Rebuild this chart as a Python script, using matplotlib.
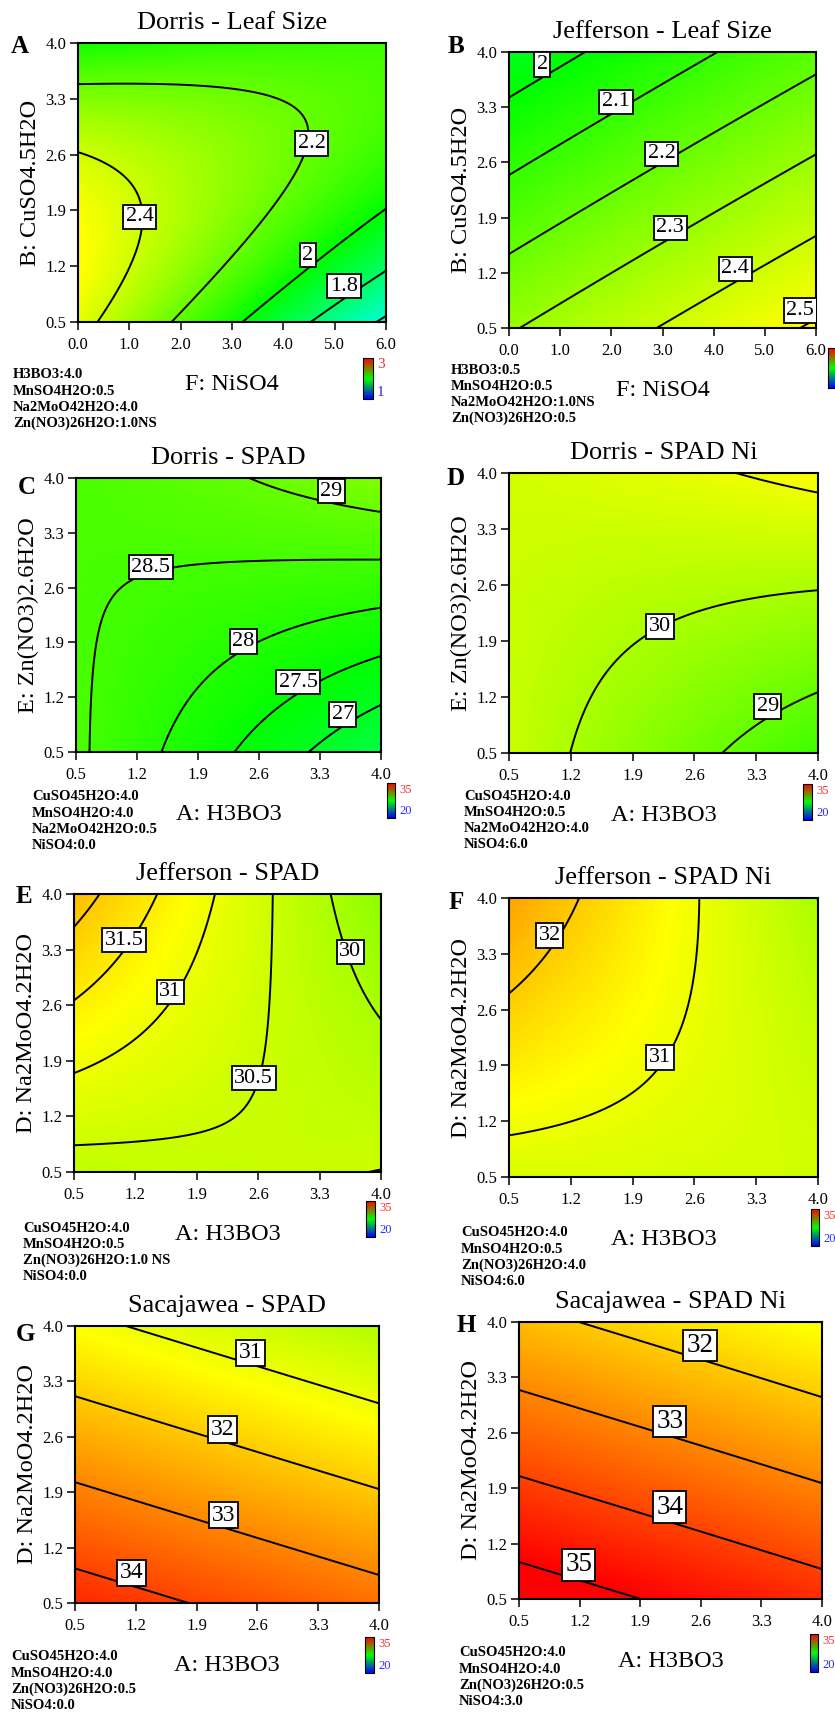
import numpy as np
import matplotlib
matplotlib.use('Agg')
import matplotlib.pyplot as plt
from matplotlib.colors import LinearSegmentedColormap, Normalize
from matplotlib.cm import ScalarMappable

plt.rcParams['font.family'] = ['Liberation Serif', 'DejaVu Serif']

FIG_W, FIG_H = 835, 1713

leaf_x = [0.0, 2.0, 4.0, 6.0]        # F: NiSO4
spad_x = [0.5, 1.67, 2.83, 4.0]      # A: H3BO3
read_y = [0.5, 1.67, 2.83, 4.0]      # B / E / D factor

leaf_ticks_x = [0, 1, 2, 3, 4, 5, 6]
spad_ticks = [0.5, 1.2, 1.9, 2.6, 3.3, 4.0]

# surface values, one row per read_y (bottom to top), one column per x
dorris_leaf = [[2.46, 2.17, 1.87, 1.57],
               [2.51, 2.33, 2.15, 1.96],
               [2.35, 2.29, 2.23, 2.12],
               [2.03, 2.08, 2.12, 2.10]]
jefferson_leaf = [[2.29, 2.37, 2.44, 2.51],
                  [2.18, 2.25, 2.33, 2.40],
                  [2.06, 2.14, 2.21, 2.29],
                  [1.94, 2.02, 2.10, 2.17]]
dorris_spad = [[28.60, 27.89, 27.20, 26.52],
               [28.57, 28.16, 27.80, 27.46],
               [28.56, 28.50, 28.45, 28.40],
               [28.56, 28.82, 29.08, 29.35]]
dorris_spad_ni = [[30.40, 29.75, 29.06, 28.39],
                  [30.45, 30.03, 29.67, 29.33],
                  [30.50, 30.35, 30.20, 30.27],
                  [30.60, 30.75, 30.95, 31.21]]
jefferson_spad = [[30.32, 30.38, 30.42, 30.52],
                  [30.95, 30.70, 30.46, 30.20],
                  [31.59, 31.04, 30.45, 29.88],
                  [32.22, 31.33, 30.45, 29.57]]
jefferson_spad_ni = [[30.71, 30.68, 30.62, 30.55],
                     [31.34, 31.08, 30.80, 30.50],
                     [31.98, 31.42, 30.90, 30.30],
                     [32.62, 31.73, 30.85, 29.96]]
sacajawea_spad = [[34.40, 34.04, 33.68, 33.33],
                  [33.33, 32.97, 32.61, 32.25],
                  [32.26, 31.90, 31.54, 31.17],
                  [31.18, 30.82, 30.46, 30.10]]
sacajawea_spad_ni = [[35.43, 35.07, 34.71, 34.35],
                     [34.36, 34.00, 33.64, 33.27],
                     [33.28, 32.92, 32.56, 32.21],
                     [32.21, 31.86, 31.50, 31.12]]

# contour levels drawn
dorris_leaf_levels = [1.6, 1.8, 2.0, 2.2, 2.4]
jefferson_leaf_levels = [2.0, 2.1, 2.2, 2.3, 2.4, 2.5]
dorris_spad_levels = [27, 27.5, 28, 28.5, 29]
dorris_spad_ni_levels = [29, 30, 31]
jefferson_spad_levels = [30, 30.5, 31, 31.5, 32]
jefferson_spad_ni_levels = [30, 31, 32]
sacajawea_spad_levels = [31, 32, 33, 34]
sacajawea_spad_ni_levels = [32, 33, 34, 35]

leaf_range = (1, 3)
spad_range = (20, 35)

dorris_leaf_notes = ['H3BO3:4.0', 'MnSO4H2O:0.5', 'Na2MoO42H2O:4.0', 'Zn(NO3)26H2O:1.0NS']
jefferson_leaf_notes = ['H3BO3:0.5', 'MnSO4H2O:0.5', 'Na2MoO42H2O:1.0NS', 'Zn(NO3)26H2O:0.5']
dorris_spad_notes = ['CuSO45H2O:4.0', 'MnSO4H2O:4.0', 'Na2MoO42H2O:0.5', 'NiSO4:0.0']
dorris_spad_ni_notes = ['CuSO45H2O:4.0', 'MnSO4H2O:0.5', 'Na2MoO42H2O:4.0', 'NiSO4:6.0']
jefferson_spad_notes = ['CuSO45H2O:4.0', 'MnSO4H2O:0.5', 'Zn(NO3)26H2O:1.0 NS', 'NiSO4:0.0']
jefferson_spad_ni_notes = ['CuSO45H2O:4.0', 'MnSO4H2O:0.5', 'Zn(NO3)26H2O:4.0', 'NiSO4:6.0']
sacajawea_spad_notes = ['CuSO45H2O:4.0', 'MnSO4H2O:4.0', 'Zn(NO3)26H2O:0.5', 'NiSO4:0.0']
sacajawea_spad_ni_notes = ['CuSO45H2O:4.0', 'MnSO4H2O:4.0', 'Zn(NO3)26H2O:0.5', 'NiSO4:3.0']

surface_cmap = LinearSegmentedColormap.from_list(
    'surface', ['#0000ff', '#00ffff', '#00ff00', '#ffff00', '#ff0000'])
legend_cmap = LinearSegmentedColormap.from_list(
    'legend', ['#0000ff', '#00ff00', '#ff0000'])


def fx(x):
    return x / FIG_W


def fy(y):
    return 1 - y / FIG_H


def quad_surface(xs, ys, z, n=240):
    # full second order response surface through the read values
    X, Y = np.meshgrid(xs, ys)

    def terms(x, y):
        return np.column_stack([np.ones_like(x), x, y, x * y, x ** 2, y ** 2])

    coef = np.linalg.lstsq(terms(X.ravel(), Y.ravel()), np.ravel(z), rcond=None)[0]
    gx = np.linspace(xs[0], xs[-1], n)
    gy = np.linspace(ys[0], ys[-1], n)
    GX, GY = np.meshgrid(gx, gy)
    return gx, gy, (terms(GX.ravel(), GY.ravel()) @ coef).reshape(GX.shape)


panels = [
    dict(letter='A', title='Dorris - Leaf Size', xs=leaf_x, z=dorris_leaf,
         levels=dorris_leaf_levels, vr=leaf_range,
         xlabel='F: NiSO4', ylabel='B: CuSO4.5H2O', notes=dorris_leaf_notes,
         box=(78, 43, 386, 322), letter_at=(20, 53), notes_at=(13, 375),
         cbar=(363, 358, 373, 399), cbar_fs=11,
         label_at=[(5.18, 0.95), (4.48, 1.34), (4.55, 2.74), (1.2, 1.82)], label_fs=16),
    dict(letter='B', title='Jefferson - Leaf Size', xs=leaf_x, z=jefferson_leaf,
         levels=jefferson_leaf_levels, vr=leaf_range,
         xlabel='F: NiSO4', ylabel='B: CuSO4.5H2O', notes=jefferson_leaf_notes,
         box=(509, 52, 816, 328), letter_at=(456, 53), notes_at=(451, 370),
         cbar=(828, 348, 838, 388), cbar_fs=None,
         label_at=[(0.65, 3.84), (2.09, 3.37), (2.98, 2.71), (3.15, 1.77),
                   (4.42, 1.25), (5.69, 0.72)], label_fs=16),
    dict(letter='C', title='Dorris - SPAD', xs=spad_x, z=dorris_spad,
         levels=dorris_spad_levels, vr=spad_range,
         xlabel='A: H3BO3', ylabel='E: Zn(NO3)2.6H2O', notes=dorris_spad_notes,
         box=(76, 478, 381, 752), letter_at=(27, 494), notes_at=(32, 797),
         cbar=(387, 783, 395, 818), cbar_fs=9,
         label_at=[(3.56, 0.98), (3.05, 1.39), (2.42, 1.91), (1.36, 2.86), (3.43, 3.83)],
         label_fs=16),
    dict(letter='D', title='Dorris - SPAD Ni', xs=spad_x, z=dorris_spad_ni,
         levels=dorris_spad_ni_levels, vr=spad_range,
         xlabel='A: H3BO3', ylabel='E: Zn(NO3)2.6H2O', notes=dorris_spad_ni_notes,
         box=(509, 473, 818, 753), letter_at=(456, 485), notes_at=(464, 796),
         cbar=(803, 784, 812, 820), cbar_fs=9,
         label_at=[(3.43, 1.08), (2.21, 2.08)], label_fs=16),
    dict(letter='E', title='Jefferson - SPAD', xs=spad_x, z=jefferson_spad,
         levels=jefferson_spad_levels, vr=spad_range,
         xlabel='A: H3BO3', ylabel='D: Na2MoO4.2H2O', notes=jefferson_spad_notes,
         box=(74, 894, 381, 1172), letter_at=(24, 903), notes_at=(23, 1228),
         cbar=(366, 1201, 375, 1237), cbar_fs=9,
         label_at=[(3.65, 3.27), (2.55, 1.68), (1.6, 2.77), (1.07, 3.42)], label_fs=16),
    dict(letter='F', title='Jefferson - SPAD Ni', xs=spad_x, z=jefferson_spad_ni,
         levels=jefferson_spad_ni_levels, vr=spad_range,
         xlabel='A: H3BO3', ylabel='D: Na2MoO4.2H2O', notes=jefferson_spad_ni_notes,
         box=(509, 898, 818, 1177), letter_at=(456, 909), notes_at=(461, 1233),
         cbar=(811, 1209, 819, 1246), cbar_fs=9,
         label_at=[(2.21, 2.0), (0.96, 3.53)], label_fs=16),
    dict(letter='G', title='Sacajawea - SPAD', xs=spad_x, z=sacajawea_spad,
         levels=sacajawea_spad_levels, vr=spad_range,
         xlabel='A: H3BO3', ylabel='D: Na2MoO4.2H2O', notes=sacajawea_spad_notes,
         box=(75, 1326, 379, 1603), letter_at=(25, 1341), notes_at=(11, 1657),
         cbar=(365, 1637, 374, 1673), cbar_fs=9,
         label_at=[(2.52, 3.66), (2.20, 2.69), (2.21, 1.61), (1.15, 0.88)], label_fs=17),
    dict(letter='H', title='Sacajawea - SPAD Ni', xs=spad_x, z=sacajawea_spad_ni,
         levels=sacajawea_spad_ni_levels, vr=spad_range,
         xlabel='A: H3BO3', ylabel='D: Na2MoO4.2H2O', notes=sacajawea_spad_ni_notes,
         box=(519, 1322, 822, 1599), letter_at=(466, 1332), notes_at=(459, 1653),
         cbar=(810, 1634, 818, 1672), cbar_fs=9,
         label_at=[(2.59, 3.70), (2.24, 2.74), (2.24, 1.66), (1.19, 0.93)], label_fs=19.5),
]

fig = plt.figure(figsize=(FIG_W / 100, FIG_H / 100), dpi=100)

for p in panels:
    left, top, right, bottom = p['box']
    ax = fig.add_axes([fx(left), fy(bottom), (right - left) / FIG_W, (bottom - top) / FIG_H])
    gx, gy, gz = quad_surface(p['xs'], read_y, p['z'])
    norm = Normalize(*p['vr'])
    ax.imshow(gz, origin='lower', extent=[gx[0], gx[-1], gy[0], gy[-1]],
              aspect='auto', cmap=surface_cmap, norm=norm, interpolation='bilinear')
    cs = ax.contour(gx, gy, gz, levels=p['levels'], colors='black', linewidths=1.4)
    texts = ax.clabel(cs, manual=p['label_at'], inline=False,
                      fmt='%g', fontsize=p['label_fs'])
    for t, pos in zip(texts, p['label_at']):
        t.set_rotation(0)
        t.set_position(pos)
        t.set_bbox(dict(boxstyle='square,pad=0.12', fc='white', ec='black', lw=1.3))
    ax.set_xlim(gx[0], gx[-1])
    ax.set_ylim(gy[0], gy[-1])
    xt = leaf_ticks_x if p['xs'] is leaf_x else spad_ticks
    ax.set_xticks(xt)
    ax.set_xticklabels(['%.1f' % v for v in xt])
    ax.set_yticks(spad_ticks)
    ax.set_yticklabels(['%.1f' % v for v in spad_ticks])
    ax.tick_params(direction='out', length=6, width=1.1, labelsize=12)
    ax.tick_params(axis='x', pad=5)
    ax.tick_params(axis='y', pad=2.5)
    for s in ax.spines.values():
        s.set_linewidth(1.5)

    cx = (left + right) / 2
    fig.text(fx(cx), fy(top - 14), p['title'], ha='center', va='baseline', fontsize=19)
    fig.text(fx(p['letter_at'][0]), fy(p['letter_at'][1]), p['letter'], ha='center',
             va='baseline', fontsize=18, fontweight='bold')
    fig.text(fx(cx), fy(bottom + 68), p['xlabel'], ha='center', va='baseline', fontsize=17.5)
    fig.text(fx(left - 42), fy((top + bottom) / 2), p['ylabel'], ha='center', va='baseline',
             rotation=90, rotation_mode='anchor', fontsize=17.5)

    nx, ny = p['notes_at']
    for i, line in enumerate(p['notes']):
        fig.text(fx(nx), fy(ny + i * 16.2), line, ha='left', va='center', fontsize=10.5,
                 fontweight='bold')

    c0, c1, c2, c3 = p['cbar']
    cax = fig.add_axes([fx(c0), fy(c3), (c2 - c0) / FIG_W, (c3 - c1) / FIG_H])
    cb = fig.colorbar(ScalarMappable(norm=norm, cmap=legend_cmap), cax=cax, ticks=[])
    cb.outline.set_linewidth(0.8)
    if p['cbar_fs']:
        lo, hi = p['vr']
        fig.text(fx(c2 + 4), fy(c1 + 7), '%g' % hi, color='#ff2a2a', ha='left',
                 va='center', fontsize=p['cbar_fs'])
        fig.text(fx(c2 + 4), fy(c3 - 7), '%g' % lo, color='#2a2aff', ha='left',
                 va='center', fontsize=p['cbar_fs'])

fig.savefig('out.png', dpi=100)
